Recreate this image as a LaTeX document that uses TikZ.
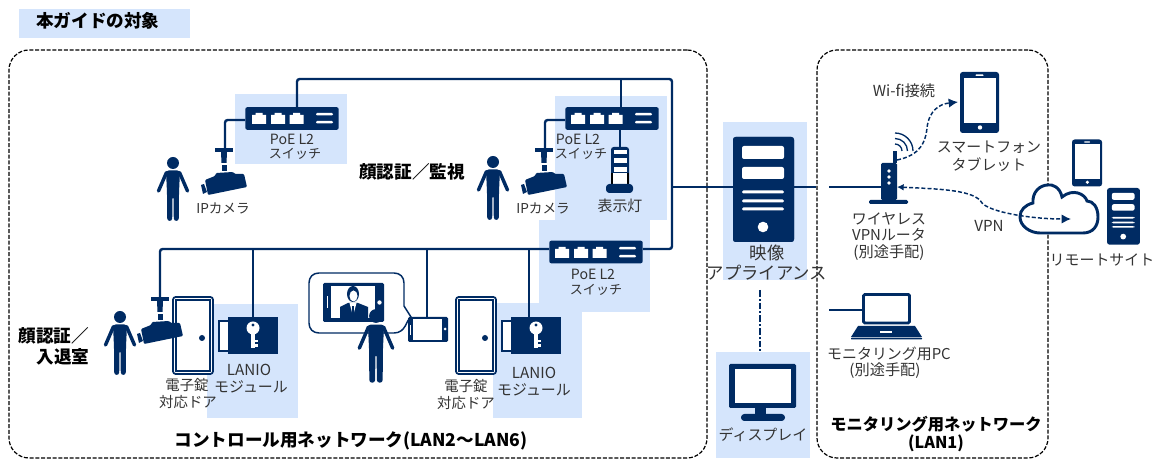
\documentclass[tikz,border=0pt]{standalone}
\usepackage{fontspec}
\setmainfont{Noto Sans CJK JP}
\usetikzlibrary{arrows.meta,calc}
\definecolor{navy}{HTML}{002B63}
\definecolor{pale}{HTML}{D5E5FC}
\definecolor{ink}{HTML}{333333}
\tikzset{
  paleblock/.style={fill=pale,draw=none},
  wire/.style={draw=navy,line width=1.8pt,rounded corners=2pt},
  frameline/.style={draw=black,line width=0.9pt,dash pattern=on 3pt off 1.3pt,rounded corners=15pt,
    minimum width=#1,inner sep=0pt},
  lbl/.style={text=ink,inner sep=0pt,font=\fontsize{11.2}{12}\selectfont},
  lbldoor/.style={text=ink,inner sep=0pt,font=\fontsize{10.8}{12}\selectfont},
  lblsm/.style={text=ink,inner sep=0pt,font=\fontsize{9.8}{12}\selectfont},
  lbllat/.style={text=ink,inner sep=0pt,font=\fontsize{11.4}{12}\selectfont},
  lblbig/.style={text=ink,inner sep=0pt,font=\fontsize{13}{14}\selectfont},
  head/.style={text=black,inner sep=0pt,font=\fontsize{13.2}{14}\selectfont\bfseries},
  headsm/.style={text=black,inner sep=0pt,font=\fontsize{12.2}{14}\selectfont\bfseries},
  swbox/.style={fill=navy,rounded corners=1.5pt,minimum width=70pt,minimum height=17pt,inner sep=0pt},
  dashflow/.style={draw=navy,line width=1.1pt,dash pattern=on 3pt off 1.6pt,
    -{Latex[length=7pt,width=7pt]}},
  person/.pic={
    \fill[navy] (0,0) circle[radius=6];
    \fill[navy,rounded corners=2pt] (-7,7.5) -- (7,7.5) -- (6,30) -- (5.8,58) -- (0.8,58) -- (0.5,33) -- (-0.5,33) -- (-0.8,58) -- (-5.8,58) -- (-6,30) -- cycle;
    \draw[navy,line width=2.6pt,line cap=round] (-6.5,9.5) -- (-14.5,28);
    \draw[navy,line width=2.6pt,line cap=round] (6.5,9.5) -- (14.5,28);
  },
  cctv/.pic={
    \fill[navy] (-9,-2) rectangle (9,2);
    \fill[navy] (-3,2) -- (3,2) -- (2.5,13) -- (-2.5,13) -- cycle;
    \fill[navy] (-2.5,15) rectangle (2.5,21);
    \fill[navy,rounded corners=0.8pt] (-19,30) -- (-9,26) -- (-8,23) -- (9,22) -- (11,24) -- (20,24) -- (23,37) -- (-16,45) -- cycle;
    \fill[navy] (-23,35) -- (-20,34) -- (-17,42) -- (-21,44) -- cycle;
  },
  doorpic/.pic={
    \draw[navy,fill=white,line width=1.3pt,rounded corners=2pt] (0,0) rectangle (40,77);
    \draw[navy,line width=0.8pt] (3,3) rectangle (37,74);
    \fill[navy] (29,41) circle[radius=3];
  },
  keypic/.pic={
    \draw[navy,fill=white,line width=1.3pt] (-9,4) rectangle (1,34);
    \fill[navy] (0,0) rectangle (50,37);
    \fill[white] (25,11) circle[radius=6.5];
    \fill[white] (23,14) rectangle (27,31);
    \fill[white] (27,23) rectangle (30,25.5);
    \fill[white] (27,27.5) rectangle (29.5,30);
    \fill[navy] (25,8) circle[radius=1.7];
  },
  serverpic/.pic={
    \fill[navy,rounded corners=2pt] (0,0) rectangle (61,105);
    \fill[white,rounded corners=1.5pt] (9,9) rectangle (51,22);
    \fill[white,rounded corners=1.5pt] (9,30) rectangle (51,42);
    \fill[white,rounded corners=1pt] (9,53.5) rectangle (51,56.5);
    \fill[white,rounded corners=1pt] (9,62.5) rectangle (51,65.5);
    \fill[white,rounded corners=1pt] (9,70.5) rectangle (51,73.5);
    \fill[white] (30,90) circle[radius=5.3];
  },
  phonepic/.pic={
    \fill[navy,rounded corners=2pt] (0,0) rectangle (39,61);
    \fill[white] (4,6) rectangle (36,51);
    \fill[white,rounded corners=0.5pt] (15.5,2.5) rectangle (23.5,4);
    \fill[white] (20,55.5) circle[radius=2.2];
  },
  swpic/.pic={
    \foreach \c in {13,32,50.5}{
      \fill[white] (\c-7,17) -- (\c-7,8) -- (\c-3.5,8) -- (\c-3.5,6) -- (\c+3.5,6) -- (\c+3.5,8) -- (\c+7,8) -- (\c+7,17) -- cycle;
    }
    \fill[white,rounded corners=0.8pt] (70,6) rectangle (87,8.5);
    \fill[white,rounded corners=0.8pt] (70,14) rectangle (87,16.5);
  }
}
\begin{document}
\begin{tikzpicture}[x=0.75pt,y=-0.75pt]
\useasboundingbox (0,0) rectangle (1158,459);
% pale blocks
\fill[paleblock] (19,9) rectangle (190,38);
\fill[paleblock] (235,94) rectangle (347,164);
\fill[paleblock] (555,96) rectangle (667,220);
\fill[paleblock] (539,220) rectangle (650,312);
\fill[paleblock] (207,304) rectangle (298,418);
\fill[paleblock] (493,303) rectangle (582,418);
\fill[paleblock] (723,122) rectangle (807,280);
\fill[paleblock] (716,352) rectangle (810,458);
% frames
\node[frameline=523.5pt,minimum height=306pt] (lan26) at (358,254) {};
\node[frameline=173.25pt,minimum height=306pt] (lan1) at (932.5,254) {};
% switches and server as named nodes
\node[swbox] (sw1) at (292,118.5) {};
\node[swbox] (sw2) at (612,118.5) {};
\node[swbox] (sw3) at (596,252) {};
\node[fill=navy,rounded corners=2pt,minimum width=45.75pt,minimum height=78.75pt,inner sep=0pt] (app) at (763.5,189.5) {};
% junction points
\coordinate (j1) at (672,187);
\coordinate (jt) at (672,79);
\coordinate (cam1) at (225,150);
\coordinate (cam2) at (544,150);
\coordinate (cam3) at (160,299);
\coordinate (lk1) at (253,317);
\coordinate (lk2) at (529,317);
\coordinate (ico) at (427,317);
\coordinate (lamp) at (620,147);
\coordinate (rt) at (881,187);
\coordinate (rtl) at (829,187);
\coordinate (pcl) at (829,310);
\coordinate (pcs) at (862,310);
\coordinate (dispt) at (760,352);
\coordinate (appb) at (760,290);
% wires
\draw[wire] (sw1.north -| 297,0) -- (297,79) -- (jt) -- (672,249) -- (sw3.east |- 0,249);
\draw[wire] (621,79) -- (621,107);
\draw[wire,rounded corners=0pt] (j1) -- (app.west |- j1);
\draw[wire,rounded corners=0pt] (app.east |- j1) -- (lan1.west |- j1);
\draw[wire,rounded corners=0pt] (rtl) -- (rt);
\draw[wire] (sw1.west |- 0,120) -- (225,120) -- (cam1);
\draw[wire] (sw2.west |- 0,120) -- (545,120) -- (545,150);
\draw[wire,rounded corners=0pt] (620,130) -- (lamp);
\draw[wire] (sw3.west |- 0,249) -- (160,249) -- (cam3);
\draw[wire,rounded corners=0pt] (253,249) -- (lk1);
\draw[wire,rounded corners=0pt] (427,249) -- (ico);
\draw[wire,rounded corners=0pt] (529,249) -- (lk2);
\draw[navy,line width=1.1pt,dash pattern=on 5pt off 1.6pt on 1.3pt off 1.6pt] (appb) -- (dispt);
% switch details
\pic at (246,107) {swpic};
\pic at (565,107) {swpic};
\pic at (549,241) {swpic};
% server details
\pic at (733,137) {serverpic};
% people and cameras
\pic at (173,163) {person};
\pic at (493,162) {person};
\pic at (120,317) {person};
\pic at (224,150) {cctv};
\pic at (544,150) {cctv};
% doors, locks
\pic at (173,297) {doorpic};
\pic at (456,297) {doorpic};
\pic at (228,317) {keypic};
\pic at (511,317) {keypic};
\pic at (160,299) {cctv};
% indicator lamp
\fill[navy,rounded corners=2pt] (611,147) rectangle (629,186);
\fill[white] (613.5,150) rectangle (626.5,154);
\fill[white] (613.5,158) rectangle (626.5,163);
\fill[white] (613.5,167) rectangle (626.5,172);
\fill[white] (613,173) rectangle (627,184);
\draw[black,line width=1pt] (612,173) -- (612,184);
\draw[black,line width=1pt] (628,173) -- (628,184);
\fill[navy,rounded corners=2.5pt] (606,184) rectangle (633,193);
% speech bubble and intercom
\draw[navy,fill=white,line width=1.1pt] (319,273) -- (394,273) .. controls (400,273) and (404,277) .. (404,283) -- (404,306) -- (411,317) .. controls (406,320) and (406,333) .. (394,333) -- (319,333) .. controls (313,333) and (309,329) .. (309,323) -- (309,283) .. controls (309,277) and (313,273) .. (319,273) -- cycle;
\fill[navy,rounded corners=1pt] (323,283) rectangle (384,322);
\fill[white] (331,286) rectangle (375,318);
\fill[white] (326.5,296) rectangle (328,308);
\fill[white] (379.5,302.5) circle[radius=2.2];
\fill[navy] (340,318) -- (340,307) -- (348,303) -- (358,303) -- (368,307) -- (368,318) -- cycle;
\fill[white] (349.5,303) -- (356.5,303) -- (353,316) -- cycle;
\fill[navy] (352,306) rectangle (354,316);
\fill[navy] (353,294) ellipse[x radius=6,y radius=8];
\fill[white] (353.5,296) ellipse[x radius=4,y radius=5.5];
\pic[scale=1.15] at (376,316) {person};
\fill[navy,rounded corners=1pt] (408,317) rectangle (448,342);
\fill[white] (413,319.5) rectangle (442,340);
\fill[white] (410,325) rectangle (411.3,335);
\fill[white] (445,329) circle[radius=1.5];
% monitor
\node[fill=navy,minimum width=50.25pt,minimum height=33pt,inner sep=0pt,rounded corners=1pt] (disp) at (762.5,386) {};
\fill[white] (735,369) rectangle (791,403);
\fill[navy] (755,408) rectangle (766,415);
\fill[navy,rounded corners=2.5pt] (741,414) rectangle (785,421);
% smartphones, remote server
\pic at (960,72) {phonepic};
\pic[scale=0.77] at (1072,139.5) {phonepic};
\pic[scale=0.54] at (1107,188) {serverpic};
% router
\fill[navy] (893,151) rectangle (897,163);
\fill[navy,rounded corners=1pt] (881,163) rectangle (897,200);
\fill[navy,rounded corners=1pt] (869,200) rectangle (908,204);
\foreach \yy in {171,177,183}{\fill[white] (889,\yy) circle[radius=1.9];}
\foreach \r in {7,12.5,18}{
  \draw[navy,line width=1pt] ({895+\r},{151}) .. controls ({895+\r},{151-.55*\r}) and ({895+.55*\r},{151-\r}) .. ({895},{151-\r});
}
% laptop
\draw[wire,rounded corners=0pt] (pcl) -- (pcs);
\draw[navy,line width=2.2pt,rounded corners=1pt,fill=white] (863.5,294.5) rectangle (909.5,323);
\fill[navy] (858,326) -- (915,326) -- (922,337) -- (851,337) -- cycle;
\fill[navy,rounded corners=0.5pt] (851,337.7) rectangle (922,339.5);
\fill[white] (880,331) rectangle (892,333);
% cloud
\draw[navy,fill=white,line width=2.2pt] (1040,233) -- (1083,233) .. controls (1093,233) and (1098,226) .. (1098,217) .. controls (1098,207) and (1093,201) .. (1087,201) .. controls (1085,194) and (1073,188) .. (1062,197) .. controls (1060,187) and (1052,184) .. (1048,185) .. controls (1040,185) and (1032,192) .. (1033,203) .. controls (1025,205) and (1020,210) .. (1020,217) .. controls (1020,226) and (1030,233) .. (1040,233) -- cycle;
\coordinate (cloudin) at (1071,219);
% dashed flows
\coordinate (rtant) at (897,160);
\coordinate (tab) at (958,102);
\coordinate (rtb) at (897,187);
\draw[dashflow] (rtant) .. controls (912,157) and (925,150) .. (927,128) .. controls (929,110) and (940,104) .. (tab);
\draw[dashflow,{Latex[length=5pt,width=5pt]}-{Latex[length=7pt,width=7pt]}] (rtb) .. controls (940,189) and (975,190) .. (982,203) .. controls (990,212) and (1030,219) .. (cloudin);
% texts
\node[head] (t0) at (98,21) {本ガイドの対象};
\node[lbllat,font=\fontsize{10.6}{12}\selectfont] (t1) at (292,139) {PoE L2};
\node[lblsm] (t2) at (295,154) {スイッチ};
\node[lblsm,font=\fontsize{10.2}{12}\selectfont] (t3) at (223,208) {IPカメラ};
\node[head] (t4) at (412,172) {顔認証／監視};
\node[lbllat,font=\fontsize{10.6}{12}\selectfont] (t5) at (578,139) {PoE L2};
\node[lblsm] (t6) at (581,154) {スイッチ};
\node[lblsm,font=\fontsize{10.2}{12}\selectfont] (t7) at (543,208) {IPカメラ};
\node[lbl] (t8) at (620,206) {表示灯};
\node[lbllat,font=\fontsize{10.6}{12}\selectfont] (t9) at (593,274) {PoE L2};
\node[lblsm] (t10) at (596,290) {スイッチ};
\node[head] (t11) at (54,336) {顔認証／};
\node[head] (t12) at (63,357) {入退室};
\node[lbllat] (t13) at (249,370) {LANIO};
\node[lbl] (t14) at (251,387) {モジュール};
\node[lbldoor] (t15) at (187,385) {電子錠};
\node[lbldoor] (t16) at (188,402) {対応ドア};
\node[lbldoor] (t17) at (466,386) {電子錠};
\node[lbldoor] (t18) at (466,403) {対応ドア};
\node[lbllat] (t19) at (534,373) {LANIO};
\node[lbl] (t20) at (534,390) {モジュール};
\node[lblbig] (t21) at (767,253) {映像};
\node[lblbig] (t22) at (767,273) {アプライアンス};
\node[lbl] (t23) at (763,435) {ディスプレイ};
\node[lbllat] (t24) at (904,91) {Wi-fi接続};
\node[lbl] (t25) at (989,147) {スマートフォン};
\node[lbl] (t26) at (989,165) {タブレット};
\node[lbl] (t27) at (889,219) {ワイヤレス};
\node[lbl] (t28) at (889,235) {VPNルータ};
\node[lbllat] (t29) at (889,253) {(別途手配)};
\node[lbllat] (t30) at (989,226) {VPN};
\node[lbl] (t31) at (1102,260) {リモートサイト};
\node[lbl] (t32) at (889,354) {モニタリング用PC};
\node[lbllat] (t33) at (885,371) {(別途手配)};
\node[headsm] (t34) at (936,424) {モニタリング用ネットワーク};
\node[headsm] (t35) at (936,443) {(LAN1)};
\node[head] (t36) at (351,441) {コントロール用ネットワーク(LAN2～LAN6)};
\end{tikzpicture}
\end{document}
